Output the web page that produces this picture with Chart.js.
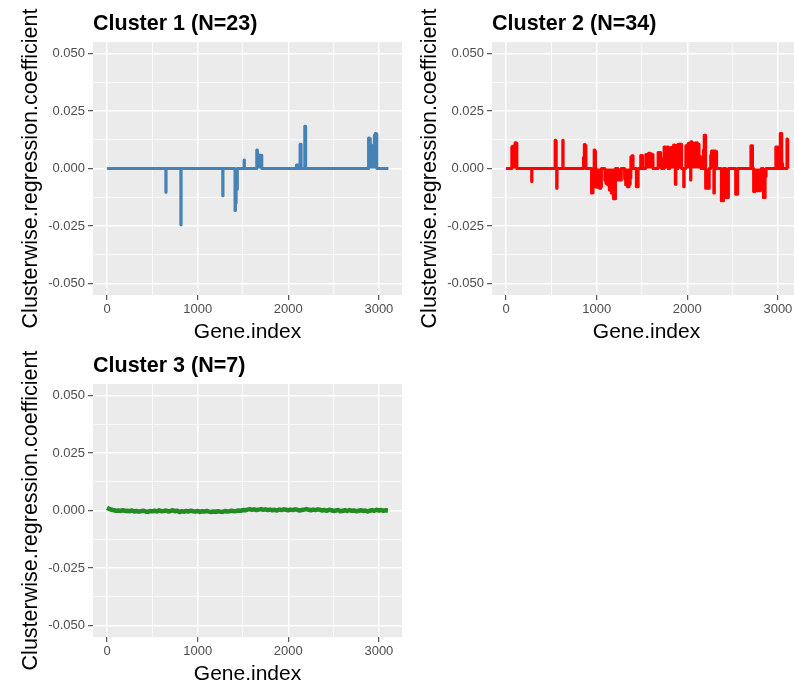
<!DOCTYPE html>
<html lang="en">
<head>
<meta charset="UTF-8">
<title>Clusterwise regression coefficients</title>
<script src="https://cdn.jsdelivr.net/npm/chart.js@4.4.1/dist/chart.umd.min.js"></script>
<style>
    body {
        margin: 0;
        background: #fff;
        width: 794px;
        height: 683px;
        overflow: hidden;
        position: relative;
    }
    canvas {
        position: absolute;
    }
</style>
</head>
<body>
<canvas id="c1" width="402" height="345" style="left:0;top:0"></canvas>
<canvas id="c2" width="402" height="345" style="left:399px;top:0"></canvas>
<canvas id="c3" width="402" height="345" style="left:0;top:342px"></canvas>

<script>
    // axis breaks (major ones get labels, minor ones only a thin grid line)
    const xTicks = [0, 500, 1000, 1500, 2000, 2500, 3000];
    const xMajor = [0, 1000, 2000, 3000];
    const yTicks = [-0.05, -0.0375, -0.025, -0.0125, 0, 0.0125, 0.025, 0.0375, 0.05];
    const yMajor = [-0.05, -0.025, 0, 0.025, 0.05];

    const panelTitles = ['Cluster 1 (N=23)', 'Cluster 2 (N=34)', 'Cluster 3 (N=7)'];
    const panelColors = ['#4682B4', '#FF0000', '#228B22'];

    // cluster 1: coefficients are zero except for a few genes
    const c1Genes = [0, 648, 650, 653, 813, 816, 819, 1275, 1278, 1281,
        1410, 1414, 1420, 1430, 1436, 1440, 1510, 1514, 1518,
        1650, 1654, 1665, 1684, 1700, 1706, 1710,
        2088, 2092, 2110, 2114, 2128, 2132, 2140, 2144, 2180, 2184, 2190, 2194,
        2884, 2888, 2900, 2910, 2925, 2935, 2945, 2955, 2965, 2975, 2980, 3105];
    const c1Coef = [0, 0, -0.0103, 0, 0, -0.0245, 0, 0, -0.0119, 0,
        0, -0.0183, -0.0150, -0.0090, -0.0090, 0, 0, 0.0037, 0,
        0, 0.0080, 0.0060, 0.0037, 0.0058, 0.0058, 0,
        0, 0.0015, 0.0015, 0, 0, 0.0105, 0.0105, 0, 0, 0.0184, 0.0184, 0,
        0, 0.0133, 0.0130, 0.0102, 0.0095, 0.0066, 0.0060, 0.0145, 0.0152, 0.0150, 0, 0];

    // cluster 2
    const c2Genes = [0,
        62, 65, 80, 95, 105, 118, 121,
        281, 284, 287,
        540, 543, 552, 556, 561, 565,
        624, 628, 632,
        852, 856, 862, 866, 880, 884,
        942, 945, 955, 965, 970, 975, 985, 990, 995, 1010, 1025, 1040, 1050, 1055,
        1088, 1092, 1110, 1130, 1150, 1175, 1195, 1205, 1210,
        1232, 1236, 1270, 1274,
        1306, 1310, 1330, 1350, 1365, 1375, 1380, 1400, 1404,
        1436, 1440, 1456, 1460,
        1484, 1488, 1504, 1508,
        1540, 1544, 1565, 1580, 1600, 1620, 1624,
        1676, 1680, 1700, 1712, 1720,
        1742, 1746, 1770, 1788, 1792,
        1804, 1808, 1825, 1838, 1845, 1853, 1865, 1871, 1878, 1882,
        1896, 1900, 1935, 1940,
        1958, 1963, 1968,
        1982, 1986, 2000, 2020, 2035, 2038, 2042, 2060, 2080, 2100, 2120, 2140, 2150, 2154,
        2176, 2180, 2193, 2200, 2205, 2225, 2240, 2244,
        2256, 2260, 2275, 2290, 2296, 2302, 2322, 2326,
        2374, 2378, 2398, 2402,
        2422, 2426, 2452, 2456,
        2532, 2536, 2554, 2558,
        2700, 2704, 2718, 2722,
        2730, 2734, 2760, 2790, 2815, 2820,
        2838, 2842, 2856, 2862, 2868, 2872,
        2975, 2979, 2996, 3000,
        3024, 3028, 3040, 3046, 3050, 3056,
        3098, 3102, 3108, 3110];
    const c2Coef = [0,
        0, 0.0095, 0.0097, 0.0098, 0.0112, 0.0110, 0,
        0, -0.0057, 0,
        0, 0.0123, 0.0120, 0, -0.0086, 0,
        0, 0.0123, 0,
        0, 0.0048, 0.0048, 0.0104, 0.0100, 0,
        0, -0.0107, -0.0105, -0.0060, 0, 0.0080, 0.0075, 0, -0.0080, -0.0082, -0.0076, -0.0086, -0.0079, 0,
        0, -0.0050, -0.0064, -0.0071, -0.0093, -0.0107, -0.0132, -0.0132, 0,
        0, -0.0050, -0.0050, 0,
        0, -0.0043, -0.0071, -0.0079, -0.0068, -0.0040, 0.0051, 0.0055, 0,
        0, -0.0079, -0.0079, 0,
        0, 0.0056, 0.0056, 0,
        0, 0.0061, 0.0061, 0.0066, 0.0063, 0.0061, 0,
        0, 0.0070, 0.0070, 0.0044, 0,
        0, 0.0094, 0.0092, 0.0094, 0,
        0, 0.0066, 0.0091, 0.0091, 0.0020, 0.0102, 0.0100, -0.0068, 0.0100, 0,
        0, 0.0105, 0.0105, 0,
        0, -0.0079, 0,
        0, 0.0099, 0.0095, 0.0110, 0.0100, -0.0050, 0.0116, 0.0110, 0.0102, 0.0112, 0.0105, 0.0051, 0.0051, 0,
        0, 0.0080, 0.0145, 0.0145, -0.0086, -0.0080, -0.0086, 0,
        0, 0.0058, 0.0076, 0.0076, -0.0107, 0.0076, 0.0074, 0,
        0, -0.0140, -0.0140, 0,
        0, -0.0126, -0.0126, 0,
        0, -0.0112, -0.0112, 0,
        0, 0.0099, 0.0099, 0,
        0, -0.0100, -0.0093, -0.0097, -0.0093, 0,
        0, -0.0126, -0.0126, -0.0035, -0.0035, 0,
        0, 0.0094, 0.0094, 0,
        0, 0.0152, 0.0152, 0, 0.0022, 0,
        0, 0.0128, 0.0125, 0];

    // cluster 3: small values everywhere, read every 25 genes
    const c3Step = 25;
    const c3Coef = [
        0.0012, 0.0007, 0.0003, 0.0001, -0.0001, 0.0000, -0.0002, 0.0001, -0.0002,
        -0.0001, -0.0003, 0.0000, -0.0004, -0.0002, -0.0005, -0.0003, -0.0001, -0.0004, -0.0006, -0.0002, -0.0003,
        -0.0001, -0.0004, 0.0001, -0.0003, -0.0002, 0.0000, -0.0004, -0.0002, 0.0001, -0.0003, -0.0001, -0.0007,
        -0.0003, -0.0005, -0.0002, -0.0004, -0.0001, -0.0003, -0.0005, -0.0002, -0.0006, -0.0003, -0.0004, -0.0002,
        -0.0005, -0.0007, -0.0004, -0.0006, -0.0003, -0.0005, -0.0006, -0.0002, -0.0004, -0.0003, -0.0001, -0.0003,
        -0.0002, 0.0000, -0.0001, 0.0002, 0.0001, 0.0004, 0.0006, 0.0003, 0.0005, 0.0002, 0.0004, 0.0006,
        0.0003, 0.0005, 0.0002, 0.0004, 0.0001, 0.0003, 0.0000, 0.0004, 0.0002, 0.0005, 0.0003, 0.0001,
        0.0004, 0.0002, 0.0005, 0.0003, 0.0000, 0.0002, 0.0004, 0.0006, 0.0003, 0.0001, 0.0004, 0.0002,
        0.0005, 0.0003, 0.0000, 0.0002, -0.0001, 0.0003, 0.0001, -0.0002, 0.0000, 0.0002, -0.0003, -0.0001,
        0.0001, -0.0002, 0.0002, -0.0001, 0.0000, -0.0003, -0.0001, 0.0001, -0.0002, 0.0000, -0.0004, -0.0001,
        0.0002, -0.0001, 0.0003, 0.0000, 0.0002, -0.0001, 0.0001, 0.0000];
    const c3Genes = c3Coef.map((v, i) => i * c3Step);

    const FONT = "'Liberation Sans', Arial, sans-serif";
    Chart.defaults.font.family = FONT;

    const near = (list, v) => list.some(m => Math.abs(m - v) < 1e-9);

    // ggplot-style grey panel
    const panelBg = {
        id: 'panelBg',
        beforeDraw(chart) {
            const a = chart.chartArea;
            const ctx = chart.ctx;
            ctx.save();
            ctx.fillStyle = '#EBEBEB';
            ctx.fillRect(a.left, a.top, a.right - a.left, a.bottom - a.top);
            ctx.restore();
        }
    };

    function gridOpts(major) {
        return {
            color: '#FFFFFF',
            lineWidth: c => (c.tick && near(major, c.tick.value)) ? 1.4 : 0.7,
            tickColor: c => (c.tick && near(major, c.tick.value)) ? '#333333' : 'rgba(0,0,0,0)',
            tickWidth: 1,
            tickLength: 5
        };
    }

    // sparse = spikes drawn as steps and filled down to zero, like dense per-gene lines
    function makeChart(id, genes, coefs, color, title, sparse) {
        const points = genes.map((g, i) => ({ x: g, y: coefs[i] }));
        return new Chart(document.getElementById(id), {
            type: 'line',
            data: {
                datasets: [{
                    data: points,
                    borderColor: color,
                    backgroundColor: color,
                    borderWidth: sparse ? 3 : 4.5,
                    pointRadius: 0,
                    fill: sparse ? 'origin' : false,
                    stepped: sparse ? 'middle' : false,
                    tension: 0,
                    borderJoinStyle: 'round'
                }]
            },
            options: {
                responsive: false,
                animation: false,
                layout: { padding: 0 },
                plugins: {
                    legend: { display: false },
                    tooltip: { enabled: false },
                    title: {
                        display: true,
                        text: title,
                        align: 'start',
                        fullSize: false,
                        color: '#000',
                        font: { size: 21.5, weight: 'bold' },
                        padding: { top: 11, bottom: 5.2 }
                    }
                },
                scales: {
                    x: {
                        type: 'linear',
                        min: -155,
                        max: 3255,
                        afterBuildTicks: s => { s.ticks = xTicks.map(v => ({ value: v })); },
                        afterFit: s => { s.height = 50; },
                        border: { display: false },
                        grid: gridOpts(xMajor),
                        ticks: {
                            color: '#4D4D4D',
                            font: { size: 13 },
                            padding: 2,
                            maxRotation: 0,
                            autoSkip: false,
                            callback: v => near(xMajor, v) ? String(v) : ''
                        },
                        title: {
                            display: true,
                            text: 'Gene.index',
                            color: '#000',
                            font: { size: 21 },
                            padding: { top: 0, bottom: 0 }
                        }
                    },
                    y: {
                        min: -0.055,
                        max: 0.055,
                        afterBuildTicks: s => { s.ticks = yTicks.map(v => ({ value: v })); },
                        afterFit: s => { s.width = 93; },
                        border: { display: false },
                        grid: gridOpts(yMajor),
                        ticks: {
                            color: '#4D4D4D',
                            font: { size: 13 },
                            padding: 3,
                            autoSkip: false,
                            callback: v => near(yMajor, v) ? v.toFixed(3) : ''
                        },
                        title: {
                            display: true,
                            text: 'Clusterwise.regression.coefficient',
                            color: '#000',
                            font: { size: 21.5 },
                            padding: { top: 18, bottom: 0 }
                        }
                    }
                }
            },
            plugins: [panelBg]
        });
    }

    makeChart('c1', c1Genes, c1Coef, panelColors[0], panelTitles[0], true);
    makeChart('c2', c2Genes, c2Coef, panelColors[1], panelTitles[1], true);
    makeChart('c3', c3Genes, c3Coef, panelColors[2], panelTitles[2], false);
</script>
</body>
</html>
